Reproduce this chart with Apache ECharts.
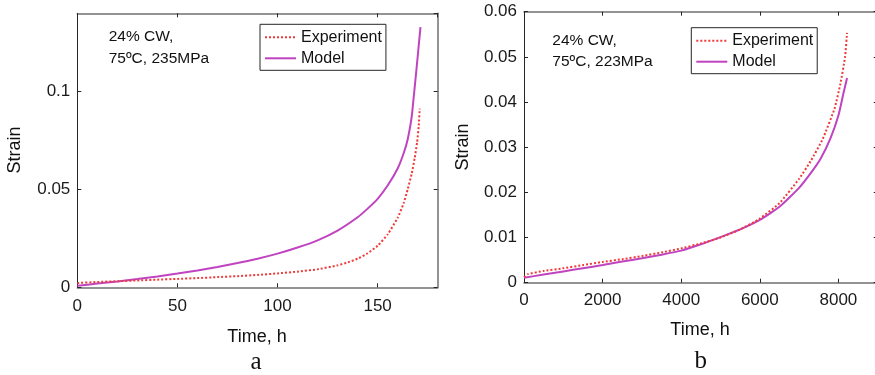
<!DOCTYPE html>
<html>
<head>
<meta charset="utf-8">
<script src="https://cdn.jsdelivr.net/npm/echarts@6/dist/echarts.min.js"></script>
<style>
  html, body { margin: 0; padding: 0; background: #ffffff; }
  #chart { width: 875px; height: 375px; }
</style>
</head>
<body>
<div id="chart"></div>
<script>
// Panel a: 24% CW, 75ºC, 235MPa
const timeA_exp    = [0, 10, 20, 30, 40, 50, 60, 70, 80, 90, 100, 110, 120, 130, 135, 140, 145, 150, 155, 160, 163, 165, 167, 168.5, 169.7, 170.5, 171];
const strainA_exp  = [0.0022, 0.0027, 0.0031, 0.0035, 0.0039, 0.0043, 0.0047, 0.0052, 0.0057, 0.0063, 0.0071, 0.0080, 0.0092, 0.0112, 0.0127, 0.0146, 0.0174, 0.0212, 0.0270, 0.0355, 0.043, 0.050, 0.058, 0.066, 0.074, 0.082, 0.0913];
const timeA_model   = [0, 10, 20, 30, 40, 50, 60, 70, 80, 90, 100, 110, 120, 130, 140, 145, 150, 155, 160, 163, 165, 167.2, 171.4];
const strainA_model = [0.0008, 0.0019, 0.0030, 0.0042, 0.0055, 0.0070, 0.0086, 0.0104, 0.0124, 0.0146, 0.0172, 0.0203, 0.0240, 0.0290, 0.0358, 0.0402, 0.0452, 0.0520, 0.0607, 0.0685, 0.0755, 0.0887, 0.1329];

// Panel b: 24% CW, 75ºC, 223MPa
const timeB_exp    = [0, 100, 500, 1000, 1500, 2000, 2500, 3000, 3500, 4000, 4500, 5000, 5500, 6000, 6500, 7000, 7300, 7600, 7900, 8050, 8170, 8220];
const strainB_exp  = [0.0012, 0.0019, 0.0026, 0.0032, 0.0039, 0.0046, 0.0052, 0.0059, 0.0067, 0.0076, 0.0087, 0.0100, 0.0118, 0.0142, 0.0176, 0.0230, 0.0270, 0.0318, 0.0385, 0.0440, 0.0500, 0.0553];
const timeB_model   = [0, 500, 1000, 1500, 2000, 2500, 3000, 3500, 4000, 4500, 5000, 5500, 6000, 6500, 7000, 7300, 7550, 7800, 8000, 8130, 8220];
const strainB_model = [0.0011, 0.0018, 0.0025, 0.0032, 0.0039, 0.0047, 0.0054, 0.0062, 0.0071, 0.0085, 0.0101, 0.0118, 0.0139, 0.0168, 0.0210, 0.0243, 0.0275, 0.0320, 0.0370, 0.0420, 0.0453];

// Axis ranges and tick steps: [min, max, interval]
const xRangeA = [0, 180, 50];
const yRangeA = [0, 0.14, 0.05];
const xRangeB = [0, 9000, 2000];
const yRangeB = [0, 0.06, 0.01];

const seriesNames = ['Experiment', 'Model'];
const notesA = ['24% CW,', '75ºC, 235MPa'];
const notesB = ['24% CW,', '75ºC, 223MPa'];
const axisTitles = { x: 'Time, h', y: 'Strain' };
const panelTags = ['a', 'b'];

const SANS = "'Liberation Sans', Arial, Helvetica, sans-serif";
const SERIF = "'Liberation Serif', 'Times New Roman', serif";
const EXP_COLOR = '#f03a3a';
const MODEL_COLOR = '#c043c0';

const pairs = (xs, ys) => xs.map((x, i) => [x, ys[i]]);

// Only values that sit on the tick step get a label (the range end may not)
function onStep(range, v) {
  const k = (v - range[0]) / range[2];
  return Math.abs(k - Math.round(k)) < 1e-6;
}

function valueAxis(gridIndex, range, position, withLabels, margin) {
  const main = position === 'left' || position === 'bottom';
  return {
    type: 'value',
    gridIndex: gridIndex,
    position: position,
    min: range[0],
    max: range[1],
    interval: range[2],
    splitLine: { show: false },
    axisLine: {
      show: true,
      onZero: false,
      lineStyle: { color: (position === 'left') ? '#262626' : '#707070', width: (position === 'left') ? 1 : 1.5 }
    },
    axisTick: { show: true, inside: true, length: 4, lineStyle: { color: '#262626', width: 1 } },
    axisLabel: {
      show: withLabels && main,
      showMaxLabel: onStep(range, range[1]),
      margin: margin,
      fontFamily: SANS,
      fontSize: 17,
      color: '#1a1a1a',
      formatter: (v) => onStep(range, v) ? String(parseFloat(v.toPrecision(6))) : ''
    }
  };
}

function legendAt(left, top) {
  return {
    data: seriesNames,
    orient: 'vertical',
    left: left,
    top: top,
    padding: [5, 4, 4, 4],
    itemGap: 5,
    itemWidth: 31,
    itemHeight: 14,
    borderColor: '#262626',
    borderWidth: 1,
    backgroundColor: '#ffffff',
    selectedMode: false,
    itemStyle: { opacity: 0 },
    textStyle: { fontFamily: SANS, fontSize: 16, color: '#111111', lineHeight: 16, padding: [0, 0, 0, 0] }
  };
}

function lineSeries(name, data, xi, yi) {
  const isExp = name === 'Experiment';
  return {
    name: name,
    type: 'line',
    xAxisIndex: xi,
    yAxisIndex: yi,
    data: data,
    symbol: 'none',
    showSymbol: false,
    smooth: 0.15,
    z: isExp ? 3 : 2,
    lineStyle: isExp
      ? { color: EXP_COLOR, width: 2, type: [2, 2] }
      : { color: MODEL_COLOR, width: 2, type: 'solid' },
    itemStyle: { color: isExp ? EXP_COLOR : MODEL_COLOR }
  };
}

function label(text, x, y, opts) {
  return Object.assign({
    type: 'text',
    x: x,
    y: y,
    silent: true,
    style: {
      text: text,
      fontFamily: SANS,
      fontSize: 18,
      fill: '#111111',
      align: 'center',
      verticalAlign: 'middle'
    }
  }, opts || {});
}

const chart = echarts.init(document.getElementById('chart'), null, { renderer: 'canvas' });

chart.setOption({
  animation: false,
  backgroundColor: '#ffffff',
  grid: [
    { left: 77.3, top: 13.3, width: 360.4, height: 274, containLabel: false, outerBoundsMode: 'none' },
    { left: 524, top: 11.7, width: 353.7, height: 271, containLabel: false, outerBoundsMode: 'none' }
  ],
  xAxis: [
    valueAxis(0, xRangeA, 'bottom', true, 11),
    valueAxis(0, xRangeA, 'top', false, 8),
    valueAxis(1, xRangeB, 'bottom', true, 9),
    valueAxis(1, xRangeB, 'top', false, 8)
  ],
  yAxis: [
    valueAxis(0, yRangeA, 'left', true, 7),
    valueAxis(0, yRangeA, 'right', false, 8),
    valueAxis(1, yRangeB, 'left', true, 7),
    valueAxis(1, yRangeB, 'right', false, 8)
  ],
  legend: [legendAt(260, 24.3), legendAt(691.3, 27.7)],
  series: [
    lineSeries('Experiment', pairs(timeA_exp, strainA_exp), 0, 0),
    lineSeries('Model', pairs(timeA_model, strainA_model), 0, 0),
    lineSeries('Experiment', pairs(timeB_exp, strainB_exp), 2, 2),
    lineSeries('Model', pairs(timeB_model, strainB_model), 2, 2)
  ],
  graphic: [
    label(axisTitles.y, 15, 150, { rotation: Math.PI / 2 }),
    label(axisTitles.y, 463, 147, { rotation: Math.PI / 2 }),
    label(axisTitles.x, 257, 337),
    label(axisTitles.x, 700, 330),
    {
      type: 'text', x: 108.7, y: 26, silent: true,
      style: { text: notesA.join('\n'), fontFamily: SANS, fontSize: 15.5, lineHeight: 21.5, fill: '#111111', align: 'left', verticalAlign: 'top' }
    },
    {
      type: 'text', x: 552.3, y: 30, silent: true,
      style: { text: notesB.join('\n'), fontFamily: SANS, fontSize: 15.5, lineHeight: 21, fill: '#111111', align: 'left', verticalAlign: 'top' }
    },
    label(panelTags[0], 256, 362, { style: { text: panelTags[0], fontFamily: SERIF, fontSize: 25, fill: '#111111', align: 'center', verticalAlign: 'middle' } }),
    label(panelTags[1], 700.7, 361, { style: { text: panelTags[1], fontFamily: SERIF, fontSize: 25, fill: '#111111', align: 'center', verticalAlign: 'middle' } })
  ]
});
</script>
</body>
</html>
